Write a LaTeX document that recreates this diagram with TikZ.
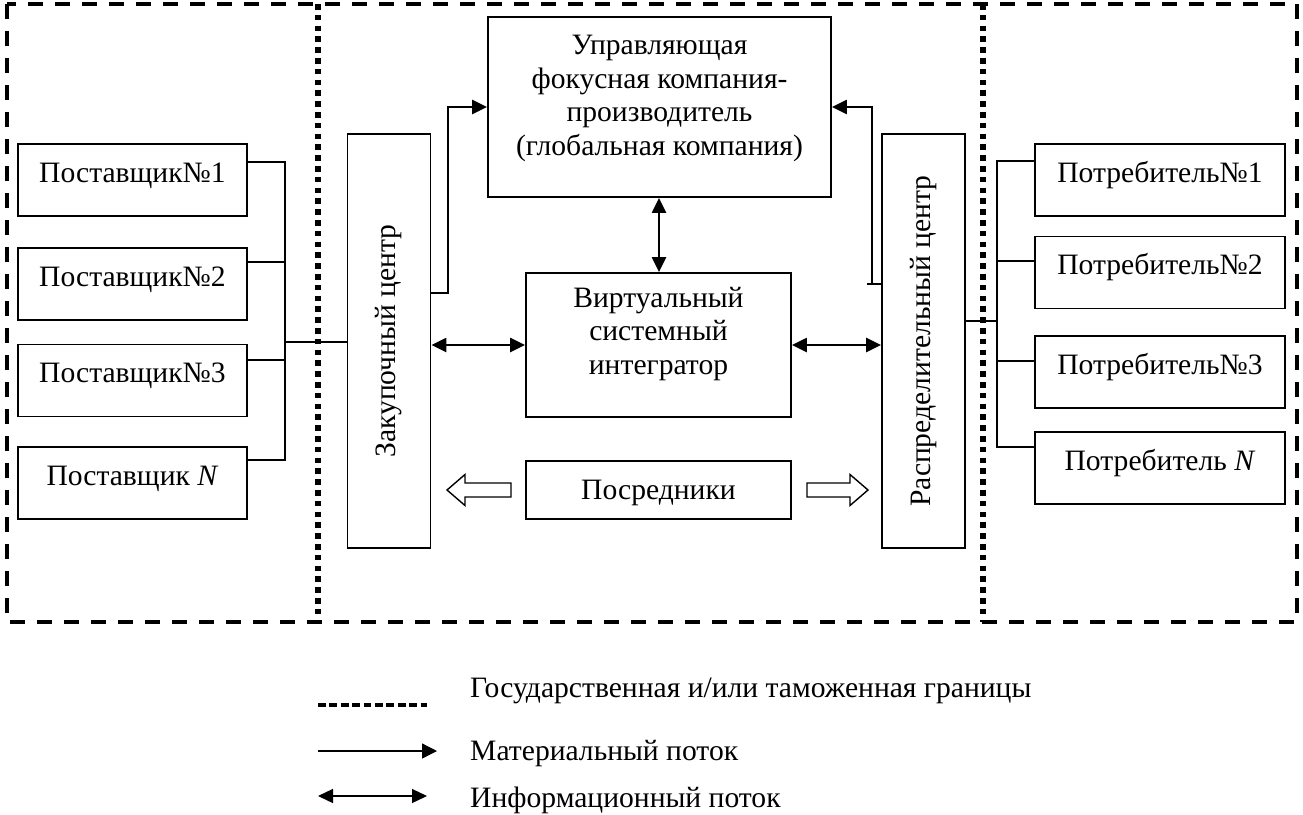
\documentclass[tikz,border=0pt]{standalone}
\usepackage{fontspec}
\setmainfont{Liberation Serif}
\usetikzlibrary{arrows.meta,calc}
\begin{document}
\begin{tikzpicture}[x=1pt,y=-1pt,
  font=\fontsize{29.6}{33.4}\selectfont,
  box/.style={draw, line width=1.8pt, inner sep=0pt},
  party/.style={box, minimum width=#1, minimum height=72pt, text height=14pt, text depth=10pt},
  tall/.style={box, minimum width=83pt, minimum height=414pt},
  bus/.style={line width=1.3pt},
  matflow/.style={line width=2.3pt, -{Triangle[length=15pt,width=14pt]}},
  infoflow/.style={line width=2.3pt, {Triangle[length=15pt,width=14pt]}-{Triangle[length=15pt,width=14pt]}},
  hollow/.style={draw, line width=1.4pt, fill=white, line join=miter},
  frame/.style={line width=3.6pt, dash pattern=on 15pt off 12pt},
  border/.style={line width=5.5pt, dash pattern=on 5.5pt off 5.3pt},
]
\useasboundingbox (0,0) rectangle (1303,814);

% outer zone frame and state / customs borders
\draw[frame] (7,4) rectangle (1297,622);
\coordinate (bL1) at (318,4);  \coordinate (bL2) at (318,622);
\coordinate (bR1) at (983,4);  \coordinate (bR2) at (983,622);
\draw[border] (bL1) -- (bL2);
\draw[border] (bR1) -- (bR2);

% suppliers
\node[party=229pt] (s1) at (132.5,180) {Поставщик№1};
\node[party=229pt] (s2) at (132.5,284) {Поставщик№2};
\node[party=229pt] (s3) at (132.5,380.5) {Поставщик№3};
\node[party=229pt] (sN) at (132.5,483) {Поставщик \textit{N}};

% consumers
\node[party=250pt] (c1) at (1160,180) {Потребитель№1};
\node[party=250pt] (c2) at (1160,272.5) {Потребитель№2};
\node[party=250pt] (c3) at (1160,372) {Потребитель№3};
\node[party=250pt] (cN) at (1160,468) {Потребитель \textit{N}};

% centres
\node[tall] (buy) at (389,341) {};
\node[rotate=90] (buytext) at (buy.center) {Закупочный центр};
\node[tall] (dist) at (923.5,341) {};
\node[rotate=90] (disttext) at (dist.center) {Распределительный центр};

% focal company, integrator, intermediaries
\node[box, minimum width=343pt, minimum height=180pt] (mgr) at (659.5,107) {};
\node[align=center] (mgrtext) at (659.5,98.5) {Управляющая\\фокусная компания-\\производитель\\(глобальная компания)};
\node[box, minimum width=265pt, minimum height=144pt] (vsi) at (658.5,345) {};
\node[align=center] (vsitext) at (658.5,334) {Виртуальный\\системный\\интегратор};
\node[box, minimum width=265pt, minimum height=58pt, text height=20pt, text depth=2pt] (mid) at (658.5,490) {Посредники};

% supplier bus
\coordinate (sb) at (285,0);
\draw[bus] (s1.east |- 0,162) -| (sb |- 0,460) -- (sN.east |- 0,460);
\draw[bus] (s2.east |- 0,262) -- (sb |- 0,262);
\draw[bus] (s3.east |- 0,360) -- (sb |- 0,360);
\draw[bus] (sb |- 0,342) -- (buy.west |- 0,342);

% consumer bus
\coordinate (cb) at (997,0);
\draw[bus] (c1.west |- 0,161) -| (cb |- 0,447) -- (cN.west |- 0,447);
\draw[bus] (c2.west |- 0,261) -- (cb |- 0,261);
\draw[bus] (c3.west |- 0,361) -- (cb |- 0,361);
\draw[bus] (dist.east |- 0,321) -- (cb |- 0,321);

% material flows into the focal company
\draw[matflow] (buy.east |- 0,293) -- (448,293) |- (mgr.west |- 0,107);
\draw[line width=2.3pt] (dist.west |- 0,284) -- (867,284);
\draw[matflow] (872,284) |- (mgr.east |- 0,107);

% information flows
\draw[infoflow] (mgr.south -| 659,0) -- (vsi.north -| 659,0);
\draw[infoflow] (buy.east |- 0,345) -- (vsi.west |- 0,345);
\draw[infoflow] (vsi.east |- 0,345) -- (dist.west |- 0,345);

% intermediaries acting towards both centres
\draw[hollow] (511,483) -- (465,483) -- (465,474.5) -- (447,490) -- (465,505.5) -- (465,497) -- (511,497) -- cycle;
\draw[hollow] (807,483) -- (850,483) -- (850,474.5) -- (868,490) -- (850,505.5) -- (850,497) -- (807,497) -- cycle;

% legend
\coordinate (lga) at (318,705); \coordinate (lgb) at (427,705);
\draw[line width=4pt, dash pattern=on 7.7pt off 3.7pt] (lga) -- (lgb);
\node[anchor=base west, inner sep=0pt] (lgt1) at (470,697) {Государственная и/или таможенная границы};
\coordinate (lma) at (318,751); \coordinate (lmb) at (437,751);
\draw[line width=1.3pt, -{Triangle[length=15pt,width=15pt]}] (lma) -- (lmb);
\node[anchor=base west, inner sep=0pt] (lgt2) at (470,760) {Материальный поток};
\coordinate (lia) at (318,796); \coordinate (lib) at (427,796);
\draw[line width=1.3pt, {Triangle[length=15pt,width=14pt]}-{Triangle[length=15pt,width=14pt]}] (lia) -- (lib);
\node[anchor=base west, inner sep=0pt] (lgt3) at (470,807) {Информационный поток};
\end{tikzpicture}
\end{document}
